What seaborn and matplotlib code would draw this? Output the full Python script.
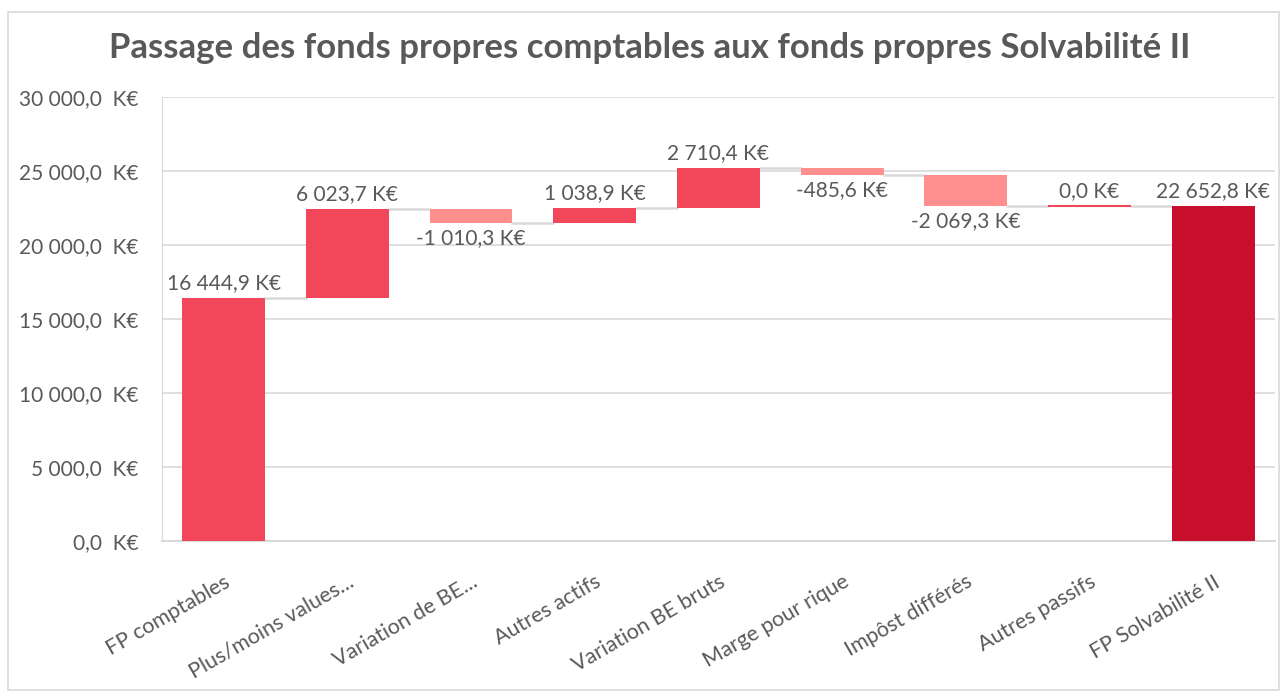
import numpy as np
import pandas as pd
import matplotlib
matplotlib.use("Agg")
import matplotlib.pyplot as plt
from matplotlib.patches import Rectangle
import seaborn as sns

# Données du graphique (K€)
categories = ["FP comptables", "Plus/moins values...", "Variation de BE...", "Autres actifs",
              "Variation BE bruts", "Marge pour rique", "Impôst différés", "Autres passifs",
              "FP Solvabilité II"]
variations = [16444.9, 6023.7, -1010.3, 1038.9, 2710.4, -485.6, -2069.3, 0.0, 22652.8]
is_total = [True, False, False, False, False, False, False, False, True]

# Bases et hauteurs de la cascade
bases, heights, cumuls = [], [], []
running = 0.0
for v, tot in zip(variations, is_total):
    if tot:
        bases.append(0.0)
        heights.append(v)
        running = v
    else:
        bases.append(running if v >= 0 else running + v)
        heights.append(abs(v))
        running += v
    cumuls.append(running)

df = pd.DataFrame({"cat": categories, "base": bases, "hauteur": heights})

c_first = "#F2465A"
c_up = "#F2465A"
c_down = "#FF8F8F"
c_total = "#C8102E"
couleurs = []
for i, (v, tot) in enumerate(zip(variations, is_total)):
    if tot:
        couleurs.append(c_first if i == 0 else c_total)
    else:
        couleurs.append(c_up if v >= 0 else c_down)

sns.set_style("white")
plt.rcParams["font.family"] = ["Lato", "DejaVu Sans"]
gris = "#595959"

def fmt(v):
    return f"{v:,.1f}".replace(",", " ").replace(".", ",")

fig = plt.figure(figsize=(12.84, 6.93), dpi=100)
ax = fig.add_axes([0.126, 0.219, 0.867, 0.641])

sns.barplot(data=df, x="cat", y="hauteur", bottom=df["base"], color=c_up,
            width=0.67, errorbar=None, ax=ax, zorder=3)
for p, col, h in zip(ax.patches, couleurs, heights):
    p.set_facecolor(col)
    p.set_edgecolor(col if h == 0 else "none")
    p.set_linewidth(1.5 if h == 0 else 0)

# Lignes de liaison
w = 0.67
for i in range(len(categories) - 1):
    ax.plot([i + w / 2, i + 1 - w / 2], [cumuls[i], cumuls[i]], color="#D9D9D9", lw=1.8, zorder=2)

# Étiquettes
for i, (v, b, h, tot) in enumerate(zip(variations, bases, heights, is_total)):
    if v >= 0:
        ax.text(i, b + h + 330, fmt(v) + " K€", ha="center", va="bottom", fontsize=15, color=gris)
    else:
        ax.text(i, b - 330, fmt(v) + " K€", ha="center", va="top", fontsize=15, color=gris)

ax.set_xlim(-0.5, len(categories) - 0.5)
ax.set_ylim(0, 30000)
ticks = np.arange(0, 30001, 5000)
ax.set_yticks(ticks)
ax.set_yticklabels([fmt(t) + "  K€" for t in ticks], fontsize=15, color=gris)
ax.set_xticks(range(len(categories)))
ax.set_xticklabels(categories, rotation=30, ha="right", rotation_mode="anchor",
                   fontsize=15.5, color=gris)
ax.tick_params(axis="y", length=0, pad=17)
ax.tick_params(axis="x", length=0, pad=22)
ax.set_xlabel("")
ax.set_ylabel("")
ax.grid(axis="y", color="#D9D9D9", lw=1.2, zorder=0)
ax.set_axisbelow(True)
for s in ["top", "right"]:
    ax.spines[s].set_visible(False)
ax.spines["left"].set_color("#D9D9D9")
ax.spines["bottom"].set_color("#D9D9D9")
ax.spines["bottom"].set_linewidth(1.5)

fig.text(0.506, 0.931, "Passage des fonds propres comptables aux fonds propres Solvabilité II",
         ha="center", va="center", fontsize=25, fontweight="bold", color=gris)

fig.patches.append(Rectangle((0.006, 0.004), 0.99, 0.978, transform=fig.transFigure,
                             fill=False, edgecolor="#D9D9D9", lw=1.2))

fig.savefig("out.png", dpi=100)
